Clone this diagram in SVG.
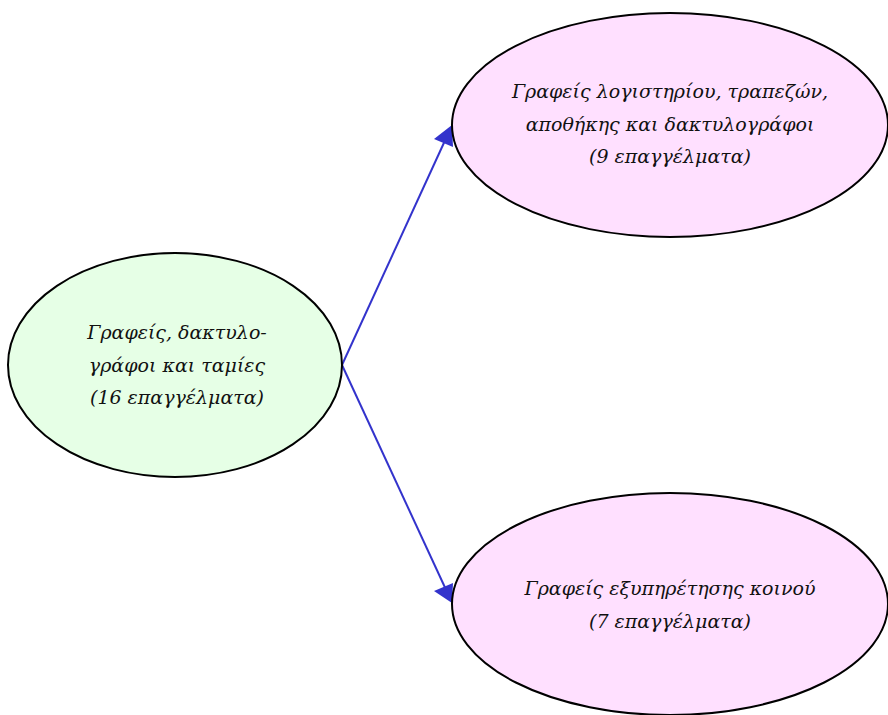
<svg xmlns="http://www.w3.org/2000/svg" width="888" height="715" viewBox="0 0 888 715">
<style>
.node{stroke:#000;stroke-width:2}
.green{fill:#e6ffe6}
.pink{fill:#ffe0ff}
.lbl{font-family:"DejaVu Serif","Liberation Serif",serif;font-style:italic;font-size:19px;fill:#111;text-anchor:middle}
.edge{stroke:#3333cc;stroke-width:2;fill:none}
</style>
<rect width="888" height="715" fill="#fff"/>
<g id="connectors">
<path class="edge" d="M342,365 L448,134"/>
<path d="M452,125 L434,139 L453,147 z" fill="#3333cc"/>
<path class="edge" d="M342,365 L448,594"/>
<path d="M452,603 L434,591 L453,583 z" fill="#3333cc"/>
</g>
<g id="node-root">
<ellipse class="node green" cx="175" cy="365" rx="167" ry="112"/>
<text class="lbl" x="177" y="339">Γραφείς, δακτυλο-</text>
<text class="lbl" x="177" y="372">γράφοι και ταμίες</text>
<text class="lbl" x="177" y="404">(16 επαγγέλματα)</text>
</g>
<g id="node-top">
<ellipse class="node pink" cx="670" cy="125" rx="218" ry="112"/>
<text class="lbl" x="670" y="98">Γραφείς λογιστηρίου, τραπεζών,</text>
<text class="lbl" x="670" y="131">αποθήκης και δακτυλογράφοι</text>
<text class="lbl" x="670" y="163">(9 επαγγέλματα)</text>
</g>
<g id="node-bottom">
<ellipse class="node pink" cx="670" cy="604" rx="218" ry="111"/>
<text class="lbl" x="670" y="595">Γραφείς εξυπηρέτησης κοινού</text>
<text class="lbl" x="670" y="628">(7 επαγγέλματα)</text>
</g>
</svg>
